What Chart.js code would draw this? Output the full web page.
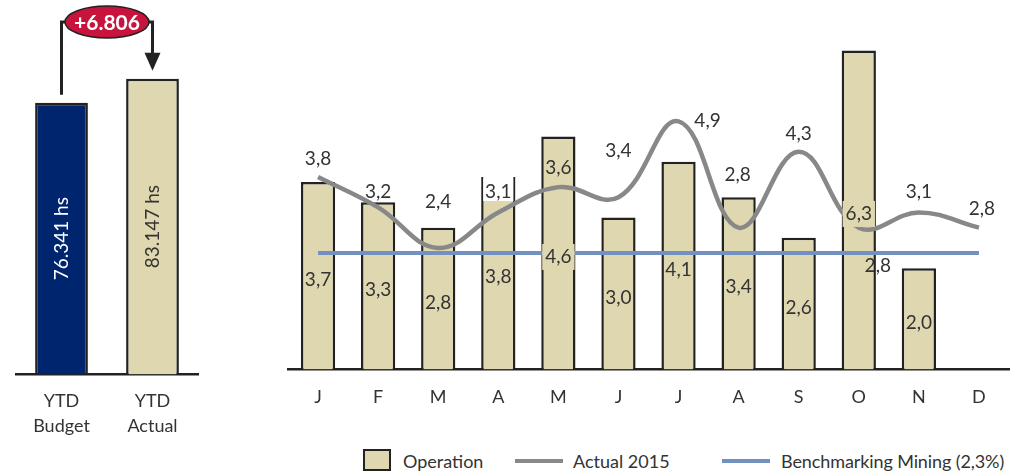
<!DOCTYPE html>
<html lang="en">
<head>
  <meta charset="UTF-8" />
  <title>Operation hours</title>
  <script src="https://cdn.jsdelivr.net/npm/chart.js"></script>
  <style>
    body {
      margin: 0;
      width: 1017px;
      height: 475px;
      overflow: hidden;
      position: relative;
      background: #fff;
      font-family: Lato, sans-serif;
      color: #333;
    }
    #ytd { position: absolute; left: 0; top: 0; }
    #monthly { position: absolute; left: 270px; top: 0; }
    .lg { position: absolute; top: 449px; height: 24px; line-height: 24px; font-size: 18px; white-space: nowrap; }
    .swatch { position: absolute; top: 449px; left: 363px; width: 24px; height: 18px; background: #dfd7b0; border: 2px solid #222; }
    .stroke { position: absolute; top: 459px; width: 48px; height: 4px; }
  </style>
</head>
<body>
  <canvas id="ytd" width="260" height="475"></canvas>
  <canvas id="monthly" width="747" height="430"></canvas>

  <div class="swatch"></div>
  <div class="lg" style="left:403px">Operation</div>
  <div class="stroke" style="left:515px;background:#888"></div>
  <div class="lg" style="left:573px">Actual 2015</div>
  <div class="stroke" style="left:722px;background:#7391c0"></div>
  <div class="lg" style="left:781px;letter-spacing:-0.1px">Benchmarking Mining (2,3%)</div>

  <script>
    // YTD comparison
    const ytdLabels = [["YTD", "Budget"], ["YTD", "Actual"]];
    const ytdHours = [76341, 83147];
    const ytdText = ["76.341 hs", "83.147 hs"];
    const ytdDelta = "+6.806";

    // monthly values
    const months = ["J", "F", "M", "A", "M", "J", "J", "A", "S", "O", "N", "D"];
    const operation = [3.7, 3.3, 2.8, 3.8, 4.6, 3.0, 4.1, 3.4, 2.6, 6.3, 2.0, null];
    const actual2015 = [3.8, 3.2, 2.4, 3.1, 3.6, 3.4, 4.9, 2.8, 4.3, 2.8, 3.1, 2.8];
    const benchmark = [2.3, 2.3, 2.3, 2.3, 2.3, 2.3, 2.3, 2.3, 2.3, 2.3, 2.3, 2.3];

    const navy = "#00256f";
    const beige = "#dfd7b0";
    const ink = "#222";
    const textColor = "#333";

    Chart.defaults.font.family = "Lato, sans-serif";
    Chart.defaults.color = textColor;

    const fmt = v => v.toFixed(1).replace(".", ",");

    // bracket with bubble + rotated value text inside bars
    const ytdDecor = {
      id: "ytdDecor",
      afterDatasetsDraw(chart) {
        const ctx = chart.ctx;
        const bars = chart.getDatasetMeta(0).data;
        const x0 = bars[0].x, x1 = bars[1].x;
        const cy = 22, rx = 42, ry = 16;
        const cx = (x0 + x1) / 2;

        ctx.save();
        bars.forEach((b, i) => {
          ctx.save();
          ctx.translate(b.x, (b.y + b.base) / 2);
          ctx.rotate(-Math.PI / 2);
          ctx.fillStyle = i === 0 ? "#fff" : textColor;
          ctx.font = "19px Lato, sans-serif";
          ctx.textAlign = "center";
          ctx.textBaseline = "middle";
          ctx.fillText(ytdText[i], 0, 0);
          ctx.restore();
        });

        ctx.strokeStyle = ink;
        ctx.lineWidth = 3;
        ctx.beginPath();
        ctx.moveTo(cx - rx + 2, cy);
        ctx.lineTo(x0, cy);
        ctx.lineTo(x0, bars[0].y - 8);
        ctx.moveTo(cx + rx - 2, cy);
        ctx.lineTo(x1, cy);
        ctx.lineTo(x1, bars[1].y - 25);
        ctx.stroke();

        ctx.fillStyle = ink;
        ctx.beginPath();
        ctx.moveTo(x1 - 8, bars[1].y - 26);
        ctx.lineTo(x1 + 8, bars[1].y - 26);
        ctx.lineTo(x1, bars[1].y - 8);
        ctx.closePath();
        ctx.fill();

        ctx.beginPath();
        ctx.ellipse(cx, cy, rx, ry, 0, 0, Math.PI * 2);
        ctx.fillStyle = "#c8143c";
        ctx.fill();
        ctx.lineWidth = 1.5;
        ctx.strokeStyle = ink;
        ctx.stroke();
        ctx.fillStyle = "#fff";
        ctx.font = "bold 21px Lato, sans-serif";
        ctx.textAlign = "center";
        ctx.textBaseline = "middle";
        ctx.fillText(ytdDelta, cx, cy + 1);
        ctx.restore();
      }
    };

    new Chart(document.getElementById("ytd"), {
      type: "bar",
      data: {
        labels: ytdLabels,
        datasets: [{
          data: ytdHours,
          backgroundColor: [navy, beige],
          borderColor: ink,
          borderWidth: 2.5,
          barPercentage: 0.58,
          categoryPercentage: 1
        }]
      },
      options: {
        responsive: false,
        animation: false,
        layout: { padding: { left: 16, right: 62, top: 40, bottom: 22 } },
        plugins: { legend: { display: false }, tooltip: { enabled: false } },
        scales: {
          x: {
            grid: { display: false, drawTicks: false },
            border: { display: true, color: ink, width: 2.5 },
            ticks: { color: textColor, font: { size: 18, lineHeight: 1.4 }, padding: 14 }
          },
          y: { display: false, min: 0, max: 94000 }
        }
      },
      plugins: [ytdDecor]
    });

    // label placement tweaks for the Actual 2015 values [dx, dy]
    const lineShift = [[0, -18], [0, -16], [0, -46], [0, -21], [0, -19], [0, -46],
                       [29, 0], [-1, -53], [0, -18], [19, 38], [0, -21], [3, -19]];
    const lineBg = { 3: "#fff" };
    const barBg = { 4: beige, 9: beige };

    const valueLabels = {
      id: "valueLabels",
      afterDatasetsDraw(chart) {
        const ctx = chart.ctx;
        const bars = chart.getDatasetMeta(0).data;
        const pts = chart.getDatasetMeta(1).data;
        ctx.save();
        ctx.font = "19px Lato, sans-serif";
        ctx.textAlign = "center";
        ctx.textBaseline = "middle";

        const put = (txt, x, y, bg) => {
          if (bg) {
            const w = ctx.measureText(txt).width + 6;
            ctx.fillStyle = bg;
            ctx.fillRect(x - w / 2, y - 13, w, 26);
          }
          ctx.fillStyle = textColor;
          ctx.fillText(txt, x, y);
        };

        operation.forEach((v, i) => {
          if (v == null) return;
          const b = bars[i];
          put(fmt(v), b.x, (b.y + b.base) / 2 + 4, barBg[i]);
        });

        actual2015.forEach((v, i) => {
          const p = pts[i];
          const [dx, dy] = lineShift[i];
          if (lineBg[i]) {
            const b = bars[i];
            ctx.fillStyle = lineBg[i];
            ctx.fillRect(b.x - b.width / 2 + 2, b.y - 2, b.width - 4, 26);
          }
          put(fmt(v), p.x + dx, p.y + dy);
        });
        ctx.restore();
      }
    };

    new Chart(document.getElementById("monthly"), {
      type: "bar",
      data: {
        labels: months,
        datasets: [
          {
            label: "Operation",
            data: operation,
            backgroundColor: beige,
            borderColor: ink,
            borderWidth: 2.5,
            barPercentage: 0.57,
            categoryPercentage: 1,
            order: 3
          },
          {
            type: "line",
            label: "Actual 2015",
            data: actual2015,
            borderColor: "#888",
            borderWidth: 4.5,
            tension: 0.4,
            pointRadius: 0,
            fill: false,
            order: 1
          },
          {
            type: "line",
            label: "Benchmarking Mining (2,3%)",
            data: benchmark,
            borderColor: "#7391c0",
            borderWidth: 4,
            pointRadius: 0,
            fill: false,
            order: 2
          }
        ]
      },
      options: {
        responsive: false,
        animation: false,
        layout: { padding: { left: 18, right: 8, top: 15, bottom: 5 } },
        plugins: { legend: { display: false }, tooltip: { enabled: false } },
        scales: {
          x: {
            offset: true,
            grid: { display: false, drawTicks: false, offset: true },
            border: { display: true, color: ink, width: 2.5 },
            ticks: { color: textColor, font: { size: 18 }, padding: 17 }
          },
          y: { display: false, min: 0, max: 7 }
        }
      },
      plugins: [valueLabels]
    });
  </script>
</body>
</html>
